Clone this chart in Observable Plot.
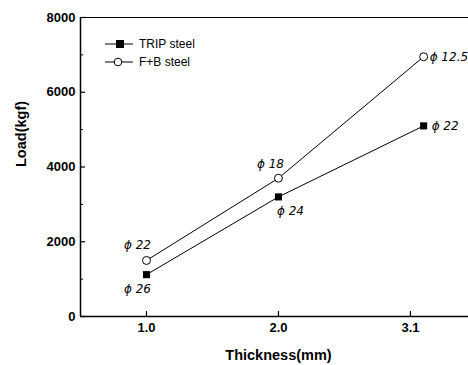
<!DOCTYPE html>
<html>
<head>
<meta charset="utf-8">
<script src="https://cdn.jsdelivr.net/npm/d3@7"></script>
<script src="https://cdn.jsdelivr.net/npm/@observablehq/plot@0.6"></script>
<style>
  html, body { margin: 0; padding: 0; background: #fff; }
  #wrap { position: relative; width: 468px; height: 365px; }
  #legend { position: absolute; left: 0; top: 0; }
</style>
</head>
<body>
<div id="wrap"></div>
<script>
// Data
const thickness = [1.0, 2.0, 3.1];
const tripLoad = [1120, 3200, 5100];
const fbLoad = [1500, 3700, 6950];
const tripLabels = ["ϕ 26", "ϕ 24", "ϕ 22"];
const fbLabels = ["ϕ 22", "ϕ 18", "ϕ 12.5"];
const xTicks = [1, 2, 3];
const xTickLabels = ["1.0", "2.0", "3.1"];
const yMajor = [0, 2000, 4000, 6000, 8000];
const yMinor = [1000, 3000, 5000, 7000];
const seriesNames = ["TRIP steel", "F+B steel"];

const trip = thickness.map((t, i) => ({t, load: tripLoad[i], label: tripLabels[i]}));
const fb = thickness.map((t, i) => ({t, load: fbLoad[i], label: fbLabels[i]}));

const xDomain = [0.5, 3.44];
const yDomain = [0, 8000];

// label offsets (styling)
const fbOff = [[-9, -15, "middle"], [-8, -14, "middle"], [6, 0, "start"]];
const tripOff = [[-9, 15, "middle"], [12, 14, "middle"], [8, 0, "start"]];

const font = "Liberation Sans, Arial, Helvetica, sans-serif";
const phiFont = "'DejaVu Sans', 'Liberation Sans', sans-serif";

const labelMarks = [];
fb.forEach((d, i) => labelMarks.push(Plot.text([d], {x: "t", y: "load", text: "label", dx: fbOff[i][0], dy: fbOff[i][1], textAnchor: fbOff[i][2], fontSize: 12, fontStyle: "italic", fontFamily: phiFont, fill: "black"})));
trip.forEach((d, i) => labelMarks.push(Plot.text([d], {x: "t", y: "load", text: "label", dx: tripOff[i][0], dy: tripOff[i][1], textAnchor: tripOff[i][2], fontSize: 12, fontStyle: "italic", fontFamily: phiFont, fill: "black"})));

const chart = Plot.plot({
  width: 468,
  height: 365,
  marginLeft: 80,
  marginRight: 0,
  marginTop: 17,
  marginBottom: 49,
  style: {fontFamily: font, color: "black", background: "white", overflow: "visible"},
  x: {domain: xDomain},
  y: {domain: yDomain},
  marks: [
    Plot.ruleY([yDomain[0]], {stroke: "black", strokeWidth: 1.5}),
    Plot.ruleY([yDomain[1]], {stroke: "black", strokeWidth: 1.2}),
    Plot.ruleX([xDomain[0]], {stroke: "black", strokeWidth: 1.5}),
    // inside tick marks
    Plot.axisY({ticks: yMajor, tickSize: 5, dx: 5, tickFormat: () => "", label: null, strokeWidth: 1.2}),
    Plot.axisY({ticks: yMinor, tickSize: 3, dx: 3, tickFormat: () => "", label: null}),
    Plot.axisX({ticks: xTicks, tickSize: 5, dy: -5, tickFormat: () => "", label: null, strokeWidth: 1.2}),
    // tick labels
    Plot.axisY({ticks: yMajor, tickSize: 0, tickPadding: 5, tickFormat: d => String(d), label: null, fontSize: 13, fontWeight: "bold"}),
    Plot.axisX({ticks: xTicks, tickSize: 0, tickPadding: 6, tickFormat: d => xTickLabels[xTicks.indexOf(d)], label: null, fontSize: 13, fontWeight: "bold"}),
    // axis titles
    Plot.text(["Thickness(mm)"], {frameAnchor: "bottom", dx: 4, dy: 39, fontSize: 14.5, fontWeight: "bold", lineAnchor: "middle"}),
    Plot.text(["Load(kgf)"], {frameAnchor: "left", dx: -59, dy: 0, rotate: -90, fontSize: 14.5, fontWeight: "bold", lineAnchor: "middle"}),
    // series
    Plot.line(fb, {x: "t", y: "load", stroke: "black", strokeWidth: 1}),
    Plot.line(trip, {x: "t", y: "load", stroke: "black", strokeWidth: 1}),
    Plot.dot(fb, {x: "t", y: "load", symbol: "circle", r: 4, fill: "white", stroke: "black", strokeWidth: 1}),
    Plot.dot(trip, {x: "t", y: "load", symbol: "square", r: 4, fill: "black", stroke: "black", strokeWidth: 0}),
    ...labelMarks
  ]
});

const wrap = document.getElementById("wrap");
wrap.appendChild(chart);

// Legend overlay
const leg = d3.select(wrap).append("svg")
  .attr("id", "legend")
  .attr("width", 468).attr("height", 365)
  .style("font-family", font)
  .style("pointer-events", "none");
const legRows = [{y: 44, name: seriesNames[0], sym: "square"}, {y: 62, name: seriesNames[1], sym: "circle"}];
legRows.forEach(r => {
  leg.append("line").attr("x1", 105).attr("x2", 133).attr("y1", r.y).attr("y2", r.y).attr("stroke", "black").attr("stroke-width", 1);
  if (r.sym === "square") {
    leg.append("rect").attr("x", 120 - 4).attr("y", r.y - 4).attr("width", 8).attr("height", 8).attr("fill", "black");
  } else {
    leg.append("circle").attr("cx", 118).attr("cy", r.y).attr("r", 3.8).attr("fill", "white").attr("stroke", "black");
  }
  leg.append("text").attr("x", 139).attr("y", r.y).attr("dy", "0.35em").attr("font-size", 12).text(r.name);
});
</script>
</body>
</html>
